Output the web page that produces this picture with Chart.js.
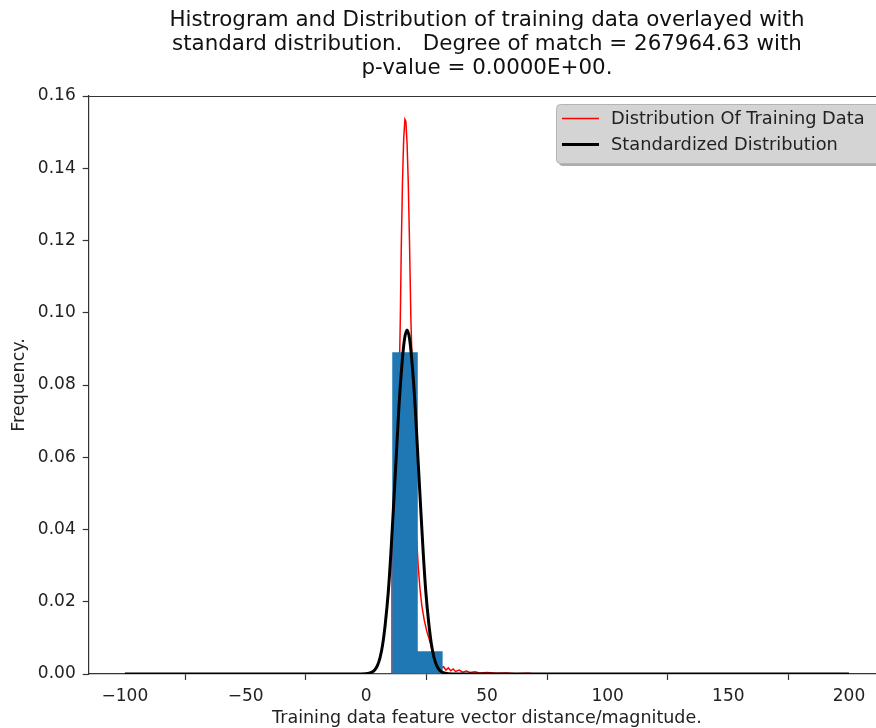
<!DOCTYPE html>
<html>
<head>
<meta charset="utf-8">
<script src="https://cdn.jsdelivr.net/npm/chart.js@4"></script>
<style>
  html, body { margin: 0; padding: 0; background: #fff; overflow: hidden; }
  #wrap { width: 900px; height: 728px; }
</style>
</head>
<body>
<div id="wrap"><canvas id="chart" width="900" height="728"></canvas></div>
<script>
// Histogram of training data (bin edges + heights)
const BIN_EDGES   = [10.9, 21.2, 31.5];
const BIN_HEIGHTS = [0.089, 0.0062];

// Red curve: distribution of training data
const RED_X = [0, 10.55, 10.65, 11.2, 12.4, 13.0, 13.6, 14.1, 14.5, 15.0, 15.5, 16.0, 16.4, 16.9, 17.4,
  17.9, 18.5, 19.0, 19.6, 20.2, 20.8, 21.5, 22.2, 23.0, 24.0, 25.0, 26.0, 26.8, 27.5, 28.2, 29.0, 30.0,
  31.0, 32.0, 33.0, 34.0, 35.0, 36.0, 37.0, 38.5, 40.0, 41.5, 43.0, 45.0, 47.0, 50.0, 54.0, 58.0, 62.0,
  67.0, 70.0];
const RED_Y = [0, 0, 0.030, 0.046, 0.059, 0.068, 0.080, 0.098, 0.118, 0.136, 0.148, 0.1535, 0.153, 0.147, 0.136,
  0.120, 0.098, 0.086, 0.068, 0.050, 0.038, 0.030, 0.024, 0.019, 0.015, 0.012, 0.0098, 0.0080, 0.0055, 0.0040,
  0.0030, 0.0024, 0.0016, 0.0020, 0.0011, 0.0017, 0.0009, 0.0014, 0.0007, 0.0011, 0.0005, 0.0008, 0.0004,
  0.0006, 0.0003, 0.0004, 0.0002, 0.0003, 0.0001, 0.0002, 0];

// Black curve: standardized distribution
const BLACK_X = [-100, -50, -20, -2.1, 1.2, 3.5, 4.6, 5.7, 6.8, 7.9, 9.1, 10.2, 11.3, 12.4, 13.5, 14.7, 15.8,
  16.9, 18.0, 19.1, 20.3, 21.4, 22.5, 23.6, 24.7, 25.9, 27.0, 28.1, 29.2, 30.3, 32.6, 35.9, 50, 100, 150, 200];
const BLACK_Y = [0, 0, 0, 0, 0.0002, 0.0011, 0.0023, 0.0045, 0.0082, 0.0140, 0.0225, 0.0335, 0.0465, 0.0600,
  0.0735, 0.0850, 0.0925, 0.0952, 0.0925, 0.0850, 0.0735, 0.0600, 0.0465, 0.0335, 0.0225, 0.0140, 0.0082,
  0.0045, 0.0023, 0.0011, 0.0002, 0, 0, 0, 0, 0];

const X_TICKS = [-100, -50, 0, 50, 100, 150, 200];
const Y_TICKS = [0, 0.02, 0.04, 0.06, 0.08, 0.10, 0.12, 0.14, 0.16];

const TITLE_LINES = [
  'Histrogram and Distribution of training data overlayed with',
  'standard distribution.   Degree of match = 267964.63 with',
  'p-value = 0.0000E+00.'
];

const toPoints = (xs, ys) => xs.map((x, i) => ({ x, y: ys[i] }));
const binPoints = BIN_HEIGHTS.map((h, i) => ({ x: (BIN_EDGES[i] + BIN_EDGES[i + 1]) / 2, y: h }));

Chart.defaults.font.family = "'DejaVu Sans', sans-serif";
Chart.defaults.color = '#222';

// Top spine, like the matplotlib axes frame
const topSpine = {
  id: 'topSpine',
  afterDraw(chart) {
    const { ctx, chartArea: a } = chart;
    ctx.save();
    ctx.strokeStyle = '#333';
    ctx.lineWidth = 1.2;
    ctx.beginPath();
    ctx.moveTo(a.left, Math.round(a.top) + 0.5);
    ctx.lineTo(a.right, Math.round(a.top) + 0.5);
    ctx.moveTo(a.right, a.top);
    ctx.lineTo(a.right, a.bottom);
    ctx.stroke();
    ctx.restore();
  }
};

// Grey legend box with a drop shadow in the top right corner
const legendBox = {
  id: 'legendBox',
  afterDraw(chart) {
    const ctx = chart.ctx;
    const items = chart.data.datasets.filter(d => d.inLegend)
      .sort((a, b) => a.legendRank - b.legendRank);
    const x = 556, y = 104, w = 420, h = 59;
    ctx.save();
    ctx.fillStyle = 'rgba(0,0,0,0.32)';
    ctx.beginPath(); ctx.roundRect(x + 3, y + 3, w, h, 4); ctx.fill();
    ctx.fillStyle = '#d4d4d4';
    ctx.strokeStyle = '#b4b4b4';
    ctx.lineWidth = 1;
    ctx.beginPath(); ctx.roundRect(x + 0.5, y + 0.5, w, h, 4); ctx.fill(); ctx.stroke();
    ctx.font = "17.8px 'DejaVu Sans'";
    ctx.textBaseline = 'middle';
    ctx.fillStyle = '#222';
    items.forEach((d, i) => {
      const ly = 118.5 + i * 26;
      ctx.strokeStyle = d.borderColor;
      ctx.lineWidth = d.borderWidth;
      ctx.beginPath(); ctx.moveTo(562, ly); ctx.lineTo(599, ly); ctx.stroke();
      ctx.fillText(d.label, 611, ly + 0.5);
    });
    ctx.restore();
  }
};

new Chart(document.getElementById('chart'), {
  type: 'scatter',
  data: {
    datasets: [
      {
        type: 'line', label: 'Distribution Of Training Data', inLegend: true, legendRank: 0,
        data: toPoints(RED_X, RED_Y), borderColor: '#ff0000', borderWidth: 1.5,
        pointRadius: 0, tension: 0, fill: false, order: 2
      },
      {
        type: 'bar', label: 'Histogram', data: binPoints,
        backgroundColor: '#1f77b4', borderWidth: 0,
        barPercentage: 1, categoryPercentage: 1, order: 1
      },
      {
        type: 'line', label: 'Standardized Distribution', inLegend: true, legendRank: 1,
        data: toPoints(BLACK_X, BLACK_Y), borderColor: '#000000', borderWidth: 3,
        pointRadius: 0, cubicInterpolationMode: 'monotone', fill: false, order: 0
      }
    ]
  },
  options: {
    responsive: false,
    animation: false,
    devicePixelRatio: 1,
    layout: { padding: { left: 0, right: 14.8, top: 0, bottom: 0 } },
    plugins: {
      legend: { display: false },
      tooltip: { enabled: false },
      title: {
        display: true,
        fullSize: false,
        text: TITLE_LINES,
        color: '#111',
        font: { size: 21.4, weight: 'normal', lineHeight: 1.12 },
        padding: { top: 8.7, bottom: 15.4 }
      }
    },
    scales: {
      x: {
        type: 'linear', min: -115, max: 215, offset: false,
        afterBuildTicks: axis => { axis.ticks = X_TICKS.map(v => ({ value: v })); },
        afterFit: axis => { axis.height = 54; },
        ticks: {
          autoSkip: false, maxRotation: 0, padding: 6,
          font: { size: 17 }, color: '#222',
          callback: v => (v < 0 ? '\u2212' + Math.abs(v) : String(v))
        },
        grid: { display: true, drawOnChartArea: false, tickLength: 6, tickColor: '#333', tickWidth: 1.2 },
        border: { display: true, color: '#333', width: 1.2 },
        title: {
          display: true, text: 'Training data feature vector distance/magnitude.',
          font: { size: 17.5, lineHeight: 1 }, color: '#222', padding: { top: 0, bottom: 1 }
        }
      },
      y: {
        min: 0, max: 0.16,
        afterBuildTicks: axis => { axis.ticks = Y_TICKS.map(v => ({ value: v })); },
        afterFit: axis => { axis.width = 88.7; },
        ticks: { padding: 7, font: { size: 17 }, color: '#222', callback: v => v.toFixed(2) },
        grid: { display: true, drawOnChartArea: false, tickLength: 6, tickColor: '#333', tickWidth: 1.2 },
        border: { display: true, color: '#333', width: 1.2 },
        title: {
          display: true, text: 'Frequency.',
          font: { size: 17.5, lineHeight: 1.2 }, color: '#222', padding: { top: 9, bottom: 0 }
        }
      }
    }
  },
  plugins: [topSpine, legendBox]
});
</script>
</body>
</html>
